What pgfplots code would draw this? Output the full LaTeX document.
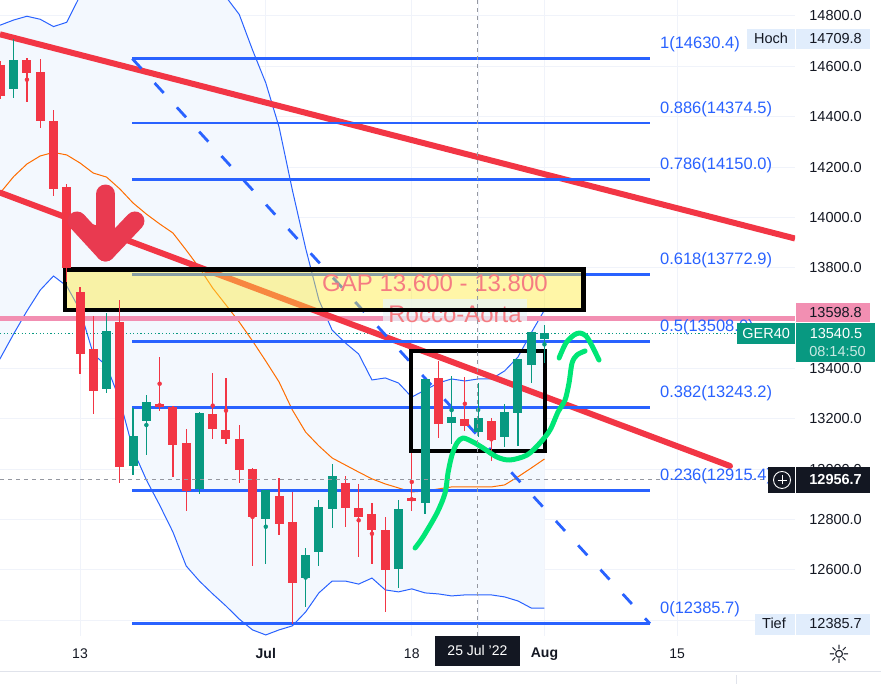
\documentclass[border=0pt]{standalone}
\usepackage{pgfplots}
\pgfplotsset{compat=1.18}
\usepackage{pgfplotstable}
\usepgfplotslibrary{fillbetween}
\usepackage{fontspec}
\setmainfont{Liberation Sans}
\newfontfamily\dejavu{DejaVu Sans}

\definecolor{tvred}{RGB}{242,54,69}
\definecolor{tvgreen}{RGB}{8,153,129}
\definecolor{fibblue}{RGB}{41,98,255}
\definecolor{bandblue}{RGB}{41,98,255}
\definecolor{bandorange}{RGB}{255,109,0}
\definecolor{bandfill}{RGB}{243,248,254}
\definecolor{gridc}{RGB}{240,243,250}
\definecolor{textc}{RGB}{19,23,34}
\definecolor{pinkc}{RGB}{242,143,178}
\definecolor{crossc}{RGB}{149,152,161}
\definecolor{curveg}{RGB}{0,230,118}
\definecolor{arrowred}{RGB}{233,58,80}
\definecolor{hochbg}{RGB}{225,237,252}
\definecolor{gapyellow}{RGB}{255,235,59}
\definecolor{roccobg}{RGB}{232,245,250}
\definecolor{salmon}{RGB}{245,124,130}
\definecolor{sepc}{RGB}{224,227,235}

% down (red) candles: index (trading days from 13 Jun), open, high, low, close
\pgfplotstableread{
i o h l c
-6 14605 14620 14470 14483
-4 14625 14634 14460 14575
-3 14579 14629 14356 14384
-2 14383 14427 14086 14113
-1 14119 14133 13744 13800
0 13704 13722 13378 13458
1 13477 13608 13220 13311
3 13584 13672 12943 13009
6 13259 13446 13232 13248
7 13247 13250 12970 13097
8 13103 13159 12835 12913
10 13219 13383 13121 13160
11 13155 13363 13101 13121
12 13119 13175 12946 12997
13 13000 13004 12616 12811
15 12893 12966 12739 12783
16 12790 12910 12386 12549
20 12943 12972 12771 12847
21 12844 12941 12652 12811
22 12821 12864 12622 12758
23 12758 12810 12433 12600
25 12886 13063 12835 12874
27 13362 13430 13125 13180
29 13199 13367 13152 13171
31 13191 13203 13033 13117
}\downc

\pgfplotstableread{
i o h l c
-5 14509 14710 14475 14625
2 13319 13621 13303 13549
4 13013 13243 12976 13131
5 13192 13294 13056 13266
9 12921 13228 12902 13223
14 12803 12918 12624 12918
17 12568 12685 12453 12659
18 12672 12877 12615 12849
19 12843 13019 12767 12972
24 12604 12876 12529 12841
26 12865 13358 12823 13358
28 13184 13370 13098 13207
30 13148 13341 13129 13203
32 13127 13258 13088 13227
33 13224 13437 13093 13437
34 13415 13545 13341 13545
35 13516 13571 13420 13540.5
}\upc

\pgfplotstableread{
i up mid lo
-7 14744 14037 13354
-6 14764 14098 13441
-5 14784 14162 13537
-4 14799 14212 13628
-3 14787 14244 13711
-2 14758 14258 13767
-1 14775 14248 13727
0 14880 14216 13632
1 15023 14176 13457
2 15100 14160 13410
3 15150 14113 13274
4 15180 14057 13076
5 15190 14013 12957
6 15180 13974 12857
7 15150 13938 12750
8 15100 13870 12615
9 15040 13799 12555
10 14960 13719 12504
11 14876 13652 12456
12 14806 13584 12404
13 14665 13509 12361
14 14534 13429 12341
15 14359 13346 12361
16 14109 13235 12377
17 13878 13147 12432
18 13672 13092 12508
19 13552 13044 12555
20 13501 13016 12555
21 13457 12988 12543
22 13354 12961 12567
23 13362 12941 12520
24 13342 12925 12512
25 13286 12909 12524
26 13314 12913 12508
27 13342 12921 12504
28 13358 12929 12496
29 13350 12929 12500
30 13358 12929 12500
31 13358 12929 12500
32 13390 12937 12492
33 13445 12969 12476
34 13541 13004 12448
35 13632 13040 12448
}\bands

\begin{document}
\begin{tikzpicture}[x=1pt,y=1pt]
\begin{axis}[
  at={(0pt,48pt)}, anchor=south west,
  scale only axis, width=795pt, height=636pt,
  xmin=-6.03, xmax=53.88, ymin=12336.8, ymax=14863.6,
  clip mode=individual,
  axis line style={draw=none},
  major tick length=0pt,
  xtick={0,14,25,30,35,45},
  xticklabels={13,\textbf{Jul},18,{},\textbf{Aug},15},
  xticklabel style={anchor=center, yshift=-18pt, inner sep=0pt, font=\fontsize{14}{16}\selectfont, text=textc},
  ytick={12400,12600,12800,13000,13200,13400,13600,13800,14000,14200,14400,14600,14800},
  yticklabels={{},12600.0,12800.0,13000.0,13200.0,13400.0,{},13800.0,14000.0,14200.0,14400.0,14600.0,14800.0},
  yticklabel pos=right,
  yticklabel style={anchor=east, xshift=67pt, inner sep=0pt, font=\fontsize{14.5}{17}\selectfont, text=textc},
  grid=major, major grid style={draw=gridc, line width=1pt},
]
% Bollinger fill
\addplot[draw=none, name path=bu, forget plot] table[x=i,y=up]{\bands};
\addplot[draw=none, name path=bl, forget plot] table[x=i,y=lo]{\bands};
\addplot[fill=bandfill, draw=none, forget plot] fill between[of=bu and bl];
\addplot[bandblue, line width=1pt] table[x=i,y=up]{\bands};
\addplot[bandblue, line width=1pt] table[x=i,y=lo]{\bands};
\addplot[bandorange, line width=1pt] table[x=i,y=mid]{\bands};

% horizontal price lines
\addplot[pinkc, line width=4.5pt] coordinates {(-6.03,13598.8) (53.88,13598.8)};
\addplot[tvgreen, line width=0.9pt, dash pattern=on 1.2pt off 2.4pt] coordinates {(-6.03,13540.5) (53.88,13540.5)};

% red trend lines
\addplot[tvred, line width=6pt] coordinates {(-6.03,14727.3) (53.88,13916)};
\addplot[tvred, line width=6pt, line cap=round] coordinates {(-6.03,14098.4) (48.98,13012.2)};

% Fibonacci levels
\addplot[fibblue, line width=2.8pt] coordinates {(3.94,14630.4) (42.95,14630.4)};
\addplot[fibblue, line width=2.8pt] coordinates {(3.94,14374.5) (42.95,14374.5)};
\addplot[fibblue, line width=2.8pt] coordinates {(3.94,14150.0) (42.95,14150.0)};
\addplot[fibblue, line width=2.8pt] coordinates {(3.94,13772.9) (42.95,13772.9)};
\addplot[fibblue, line width=2.8pt] coordinates {(3.94,13508.05) (42.95,13508.05)};
\addplot[fibblue, line width=2.8pt] coordinates {(3.94,13243.2) (42.95,13243.2)};
\addplot[fibblue, line width=2.8pt] coordinates {(3.94,12915.4) (42.95,12915.4)};
\addplot[fibblue, line width=2.8pt] coordinates {(3.94,12385.7) (42.95,12385.7)};
\addplot[fibblue, line width=2.8pt, dash pattern=on 13.5pt off 19.5pt] coordinates {(3.94,14630.4) (42.95,12385.7)};

% GAP box fill
\addplot[fill=gapyellow, fill opacity=0.45, draw=none] coordinates {(-1.13,13792.9) (37.94,13792.9) (37.94,13632.7) (-1.13,13632.7)} -- cycle;

% Rocco-Aorta label
\addplot[fill=roccobg, fill opacity=0.75, draw=none] coordinates {(22.83,13675.7) (33.69,13675.7) (33.69,13588.3) (22.83,13588.3)} -- cycle;
\node[anchor=base, inner sep=0pt, text=salmon, font=\fontsize{24}{24}\selectfont] at (axis cs:28.26,13583.0) {Rocco-Aorta};

% GAP box border and text
\addplot[black, line width=4.5pt] coordinates {(-1.13,13792.9) (37.94,13792.9) (37.94,13632.7) (-1.13,13632.7)} -- cycle;
\node[anchor=base, inner sep=0pt, text=salmon, font=\fontsize{24}{24}\selectfont] at (axis cs:26.75,13704.7) {GAP 13.600 - 13.800};

% black box
\addplot[black, line width=4pt] coordinates {(24.95,13469.1) (35.02,13469.1) (35.02,13071.8) (24.95,13071.8)} -- cycle;

% candles: wicks
\addplot[tvred, only marks, mark=none, forget plot,
  error bars/.cd, y dir=both, y explicit, error mark=none,
  error bar style={line width=1.2pt, tvred}]
  table[x=i, y expr={(\thisrow{h}+\thisrow{l})/2}, y error expr={(\thisrow{h}-\thisrow{l})/2}] {\downc};
\addplot[tvgreen, only marks, mark=none, forget plot,
  error bars/.cd, y dir=both, y explicit, error mark=none,
  error bar style={line width=1.2pt, tvgreen}]
  table[x=i, y expr={(\thisrow{h}+\thisrow{l})/2}, y error expr={(\thisrow{h}-\thisrow{l})/2}] {\upc};
% candles: bodies
\addplot[tvred, only marks, mark=none, forget plot,
  error bars/.cd, y dir=both, y explicit, error mark=none,
  error bar style={line width=9pt, tvred}]
  table[x=i, y expr={(\thisrow{o}+\thisrow{c})/2}, y error expr={abs(\thisrow{o}-\thisrow{c})/2}] {\downc};
\addplot[tvgreen, only marks, mark=none, forget plot,
  error bars/.cd, y dir=both, y explicit, error mark=none,
  error bar style={line width=9pt, tvgreen}]
  table[x=i, y expr={(\thisrow{o}+\thisrow{c})/2}, y error expr={abs(\thisrow{o}-\thisrow{c})/2}] {\upc};

% red arrow
\addplot[arrowred, line width=19pt, line cap=round] coordinates {(1.92,14092.8) (1.92,13862.4)};
\addplot[arrowred, line width=19pt, line cap=round, line join=round] coordinates {(-0.23,13985.6) (1.92,13862.4) (4.14,13985.6)};

% hand-drawn green curve
\addplot[curveg, line width=5pt, smooth, line cap=round, line join=round] coordinates {
(25.25,12686.4) (25.85,12730.1) (26.90,12825.5) (27.51,12904.9) (27.73,12984.4) (28.03,13055.9)
(28.41,13103.6) (28.86,13123.4) (29.62,13107.5) (30.37,13083.7) (31.42,13047.9) (32.40,13036)
(33.69,13055.9) (34.66,13103.6) (35.42,13155.2) (36.02,13226.7) (36.55,13274.4) (36.85,13341.9)
(37.08,13421.4) (37.45,13453.2) (38.06,13469.1)};
\addplot[curveg, line width=5pt, smooth, line cap=round, line join=round] coordinates {
(36.10,13441.3) (36.62,13500.9) (37.23,13532.6) (37.68,13540.6) (38.13,13528.7) (38.51,13496.9) (39.11,13433.3)};

% crosshair
\addplot[crossc, line width=1pt, dash pattern=on 4pt off 4pt] coordinates {(29.95,12336.8) (29.95,14863.6)};
\addplot[crossc, line width=1pt, dash pattern=on 4pt off 4pt] coordinates {(-6.03,12956.7) (53.88,12956.7)};

% Fibonacci labels
\begin{scope}[every node/.style={anchor=base west, inner sep=0pt, text=fibblue, font=\fontsize{16.5}{17}\selectfont}]
\node at ([yshift=10pt]axis cs:43.7,14630.4) {1(14630.4)};
\node at ([yshift=10pt]axis cs:43.7,14374.5) {0.886(14374.5)};
\node at ([yshift=10pt]axis cs:43.7,14150.0) {0.786(14150.0)};
\node at ([yshift=10pt]axis cs:43.7,13772.9) {0.618(13772.9)};
\node at ([yshift=10pt]axis cs:43.7,13508.05) {0.5(13508.0)};
\node at ([yshift=10pt]axis cs:43.7,13243.2) {0.382(13243.2)};
\node at ([yshift=10pt]axis cs:43.7,12915.4) {0.236(12915.4)};
\node at ([yshift=10pt]axis cs:43.7,12385.7) {0(12385.7)};
\end{scope}

\coordinate (RH) at (axis cs:53.88,14709.8);
\coordinate (RP) at (axis cs:53.88,13598.8);
\coordinate (RG) at (axis cs:53.88,13540.5);
\coordinate (RC) at (axis cs:53.88,12956.7);
\coordinate (RT) at (axis cs:53.88,12385.7);
\coordinate (RB) at (axis cs:53.88,12336.8);
\coordinate (DB) at (axis cs:29.95,12336.8);
\end{axis}

% price scale labels
\tikzset{lbl/.style={inner sep=0pt, font=\fontsize{14.5}{17}\selectfont, text=textc}}
% Hoch
\fill[hochbg] ([xshift=-48pt,yshift=-10pt]RH) rectangle ([xshift=75pt,yshift=10pt]RH);
\draw[white, line width=1pt] ([xshift=0.7pt,yshift=-10pt]RH) -- ([xshift=0.7pt,yshift=10pt]RH);
\node[lbl] at ([xshift=-24pt]RH) {Hoch};
\node[lbl, anchor=east] at ([xshift=67pt]RH) {14709.8};
% pink
\fill[pinkc] ([xshift=1pt,yshift=-3.4pt]RP) rectangle ([xshift=75pt,yshift=15.6pt]RP);
\node[lbl, anchor=east] at ([xshift=67pt,yshift=6.1pt]RP) {13598.8};
% GER40
\fill[tvgreen] ([xshift=-57.7pt,yshift=-11pt]RG) rectangle ([xshift=0pt,yshift=10.3pt]RG);
\node[lbl, text=white] at ([xshift=-28.8pt,yshift=-0.5pt]RG) {GER40};
\fill[tvgreen] ([xshift=1pt,yshift=-28.7pt]RG) rectangle ([xshift=80pt,yshift=10.3pt]RG);
\node[lbl, text=white] at ([xshift=41pt,yshift=-0.8pt]RG) {13540.5};
\node[lbl, text=white!78!tvgreen] at ([xshift=42.5pt,yshift=-18.7pt]RG) {08:14:50};
% crosshair price
\fill[textc] ([xshift=-26.7pt,yshift=-13.3pt]RC) rectangle ([xshift=75pt,yshift=13.3pt]RC);
\draw[white, line width=1pt] ([xshift=0.7pt,yshift=-13.3pt]RC) -- ([xshift=0.7pt,yshift=13.3pt]RC);
\draw[white, line width=0.9pt] ([xshift=-13pt]RC) circle[radius=8.5pt];
\draw[white, line width=0.9pt] ([xshift=-17.5pt]RC) -- ([xshift=-8.5pt]RC);
\draw[white, line width=0.9pt] ([xshift=-13pt,yshift=-4.5pt]RC) -- ([xshift=-13pt,yshift=4.5pt]RC);
\node[lbl, anchor=east, text=white, font=\bfseries\fontsize{14.5}{17}\selectfont] at ([xshift=67pt]RC) {12956.7};
% Tief
\fill[hochbg] ([xshift=-40pt,yshift=-11pt]RT) rectangle ([xshift=75pt,yshift=10pt]RT);
\draw[white, line width=1pt] ([xshift=0.7pt,yshift=-11pt]RT) -- ([xshift=0.7pt,yshift=10pt]RT);
\node[lbl] at ([xshift=-21pt]RT) {Tief};
\node[lbl, anchor=east] at ([xshift=67pt]RT) {12385.7};
% date box
\fill[textc] ([xshift=-42pt,yshift=-30pt]DB) rectangle ([xshift=42.4pt]DB);
\node[inner sep=0pt, text=white, font=\fontsize{14}{16}\selectfont] at ([yshift=-15pt]DB) {25 Jul '22};
% gear and separators
\node[inner sep=0pt, text=textc, font=\dejavu\fontsize{25}{25}\selectfont] at ([xshift=44pt,yshift=-18pt]RB) {☼};
\draw[sepc, line width=1pt] ([xshift=-795pt,yshift=-36pt]RB) -- ([xshift=86pt,yshift=-36pt]RB);
\draw[sepc, line width=1pt] ([xshift=-59pt,yshift=-39pt]RB) -- ([xshift=-59pt,yshift=-48pt]RB);
\pgfresetboundingbox
\path[use as bounding box] (0,0) rectangle (881,684);
\end{tikzpicture}
\end{document}
